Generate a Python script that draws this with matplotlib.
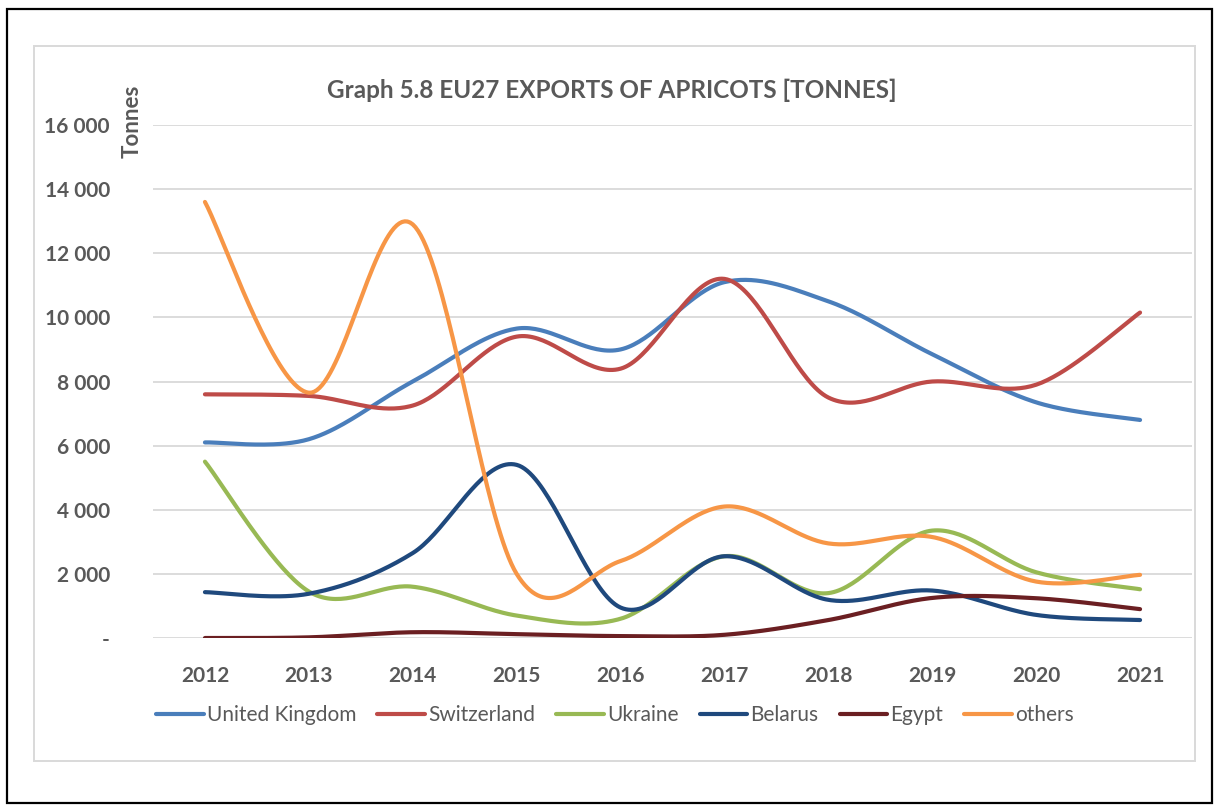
import numpy as np
import matplotlib
matplotlib.use('Agg')
import matplotlib.pyplot as plt
from matplotlib.patches import Rectangle
from matplotlib.ticker import FuncFormatter, FixedLocator

years = ['2012', '2013', '2014', '2015', '2016', '2017', '2018', '2019', '2020', '2021']
uk = [6100, 6200, 8000, 9650, 9000, 11100, 10500, 8850, 7350, 6800]
switzerland = [7600, 7550, 7250, 9400, 8400, 11200, 7500, 8000, 7900, 10150]
ukraine = [5500, 1450, 1600, 700, 600, 2550, 1400, 3350, 2050, 1520]
belarus = [1430, 1380, 2650, 5400, 950, 2550, 1190, 1480, 720, 560]
egypt = [0, 20, 180, 120, 60, 100, 560, 1250, 1240, 900]
others = [13600, 7650, 12900, 2000, 2400, 4100, 2950, 3150, 1760, 1970]

series_names = ['United Kingdom', 'Switzerland', 'Ukraine', 'Belarus', 'Egypt', 'others']
series_values = [uk, switzerland, ukraine, belarus, egypt, others]
series_colors = ['#4A7EBB', '#BE4B48', '#98B954', '#1F497D', '#6B1F22', '#F79646']
y_ticks = [0, 2000, 4000, 6000, 8000, 10000, 12000, 14000, 16000]

FONT = ['Lato', 'DejaVu Sans']
TXT = '#595959'


def smooth(vals, n=40):
    """Excel-like smoothed line: cubic Bezier segments with 1/6 tangents."""
    y = np.asarray(vals, dtype=float)
    x = np.arange(len(y), dtype=float)
    xs, ys = [], []
    m = len(y)
    for i in range(m - 1):
        i0 = max(i - 1, 0)
        i3 = min(i + 2, m - 1)
        p0 = np.array([x[i], y[i]])
        p3 = np.array([x[i + 1], y[i + 1]])
        c1 = p0 + (np.array([x[i + 1], y[i + 1]]) - np.array([x[i0], y[i0]])) / 6.0
        c2 = p3 - (np.array([x[i3], y[i3]]) - np.array([x[i], y[i]])) / 6.0
        t = np.linspace(0, 1, n)[:, None]
        pts = ((1 - t) ** 3) * p0 + 3 * ((1 - t) ** 2) * t * c1 + 3 * (1 - t) * t ** 2 * c2 + t ** 3 * p3
        if i > 0:
            pts = pts[1:]
        xs.extend(pts[:, 0])
        ys.extend(pts[:, 1])
    return np.array(xs), np.array(ys)


fig = plt.figure(figsize=(12.2, 8.06), dpi=100)
fig.patch.set_facecolor('white')

# outer black frame and inner light chart-area frame
fig.add_artist(Rectangle((7 / 1220, 1 - 803 / 806), 1205 / 1220, 794 / 806,
                         transform=fig.transFigure, fill=False, edgecolor='black', lw=1.6))
fig.add_artist(Rectangle((34 / 1220, 1 - 761 / 806), 1161 / 1220, 715 / 806,
                         transform=fig.transFigure, fill=False, edgecolor='#D9D9D9', lw=1.4))

ax = fig.add_axes([153 / 1220, 1 - 638 / 806, 1039 / 1220, 513 / 806])
ax.set_xlim(-0.5, len(years) - 0.5)
ax.set_ylim(0, 16000)

for name, vals, col in zip(series_names, series_values, series_colors):
    sx, sy = smooth(vals)
    ax.plot(sx, sy, color=col, lw=3.0, solid_capstyle='round', label=name)

ax.yaxis.set_major_locator(FixedLocator(y_ticks))
ax.yaxis.set_major_formatter(FuncFormatter(
    lambda v, p: '-' if v == 0 else f'{int(v):,}'.replace(',', ' ')))
ax.set_xticks(range(len(years)))
ax.set_xticklabels(years)
ax.grid(axis='y', color='#D9D9D9', lw=1.3)
ax.set_axisbelow(True)
for s in ax.spines.values():
    s.set_visible(False)
ax.tick_params(axis='both', length=0, labelcolor=TXT)
ax.tick_params(axis='y', pad=31)
ax.tick_params(axis='x', pad=20)
for lab in ax.get_xticklabels() + ax.get_yticklabels():
    lab.set_fontfamily(FONT)
    lab.set_fontweight('bold')
    lab.set_fontsize(15)

fig.text(612 / 1220, 1 - 90 / 806, 'Graph 5.8 EU27 EXPORTS OF APRICOTS [TONNES]',
         ha='center', va='center', fontsize=17.5, fontweight='bold', color=TXT, family=FONT)
fig.text(132 / 1220, 1 - 121 / 806, 'Tonnes', rotation=90, ha='center', va='center',
         fontsize=16, fontweight='bold', color=TXT, family=FONT)

leg = fig.legend(loc='center', bbox_to_anchor=(615 / 1220, 1 - 715 / 806), ncol=6,
                 frameon=False, handlelength=2.3, handletextpad=0.15, columnspacing=1.0,
                 prop={'family': FONT, 'size': 15})
for t in leg.get_texts():
    t.set_color(TXT)

fig.savefig('out.png', dpi=100, facecolor='white')
